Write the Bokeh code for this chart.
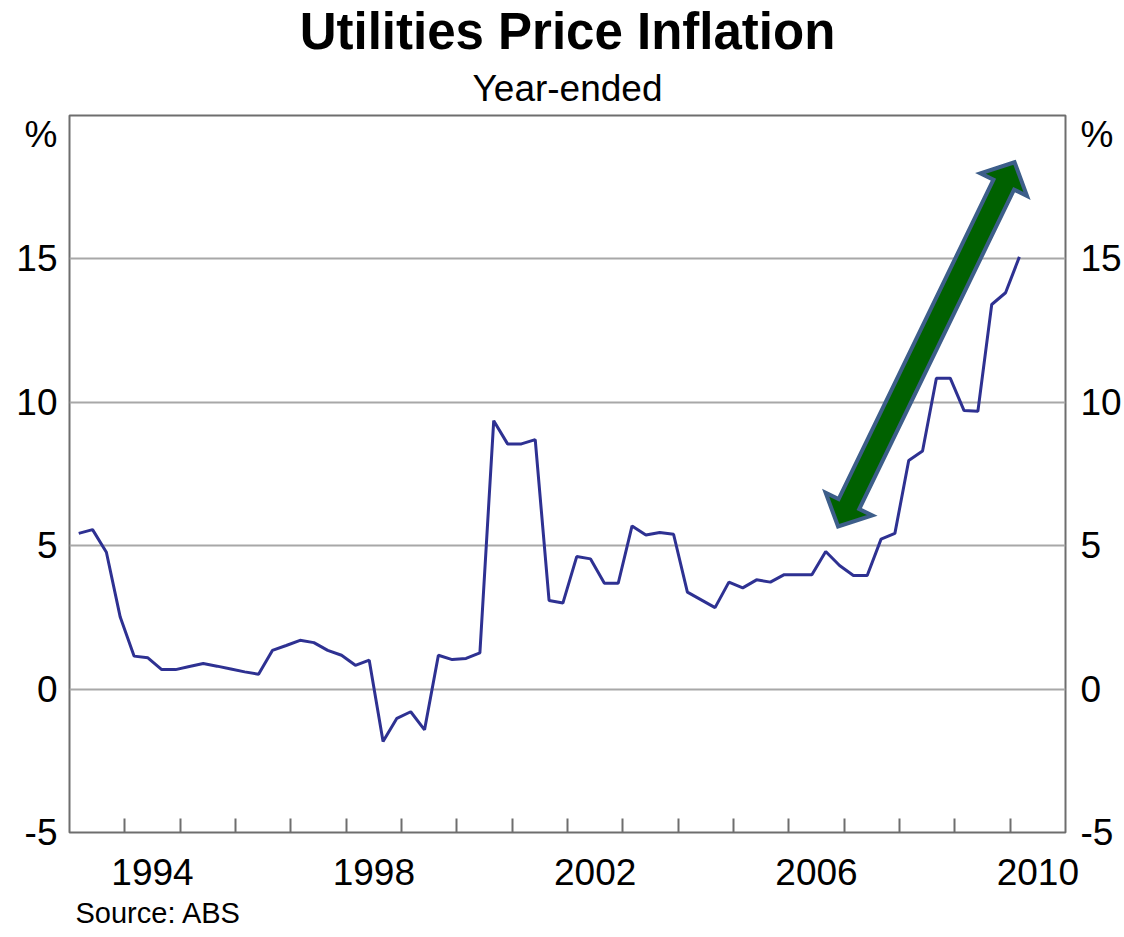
import numpy as np
from bokeh.plotting import figure
from bokeh.models import FixedTicker, LinearAxis, Title, Range1d
from bokeh.embed import file_html
from bokeh.resources import INLINE

# ---------------- data ----------------
START_YEAR = 1993          # first observation: March quarter 1993
VALUES = [
    5.43, 5.56, 4.77, 2.51,      # 1993
    1.15, 1.09, 0.68, 0.68,      # 1994
    0.79, 0.89, 0.80, 0.70,      # 1995
    0.60, 0.52, 1.35, 1.52,      # 1996
    1.70, 1.62, 1.35, 1.18,      # 1997
    0.83, 1.01, -1.83, -1.02,    # 1998
    -0.79, -1.42, 1.18, 1.03,    # 1999
    1.07, 1.26, 9.36, 8.55,      # 2000
    8.55, 8.70, 3.09, 3.00,      # 2001
    4.62, 4.54, 3.69, 3.69,      # 2002
    5.69, 5.37, 5.46, 5.40,      # 2003
    3.38, 3.11, 2.84, 3.73,      # 2004
    3.53, 3.81, 3.73, 3.99,      # 2005
    3.99, 3.99, 4.80, 4.31,      # 2006
    3.96, 3.96, 5.23, 5.43,      # 2007
    7.97, 8.30, 10.84, 10.84,    # 2008
    9.71, 9.69, 13.41, 13.82,    # 2009
    15.07,                       # 2010
]
QUARTER_YEAR = [START_YEAR + i // 4 for i in range(len(VALUES))]
QUARTER_NUM = [i % 4 + 1 for i in range(len(VALUES))]

Y_TICKS = [-5, 0, 5, 10, 15]
Y_TICK_LABELS = ["-5", "0", "5", "10", "15"]
GRID_LINES = [0, 5, 10, 15]
X_LABEL_YEARS = [1994, 1998, 2002, 2006, 2010]
YEAR_TICKS = list(range(1994, 2011))

TITLE = "Utilities Price Inflation"
SUBTITLE = "Year-ended"
SOURCE = "Source: ABS"
UNIT = "%"
UNIT_Y = 19.35             # where the "%" unit label sits on both y axes

# annotation arrow end points (data coordinates)
ARROW_FROM = (2006.89, 5.67)
ARROW_TO = (2010.08, 18.37)

# ---------------- layout ----------------
X_START, X_END = 1993, 2011
Y_START, Y_END = -5, 20
W, H = 1124, 937
B_LEFT, B_RIGHT, B_TOP, B_BOTTOM = 69, 55, 112, 105
FRAME_W = W - B_LEFT - B_RIGHT
FRAME_H = H - B_TOP - B_BOTTOM

FONT = "Liberation Sans"
LABEL_SIZE = "37px"
LINE_COLOR = "#2E3192"
GRID_COLOR = "#A8A8A8"
BORDER_COLOR = "#6E6E6E"

p = figure(width=W, height=H, output_backend="svg", toolbar_location=None,
           x_range=Range1d(X_START, X_END), y_range=Range1d(Y_START, Y_END),
           min_border_left=B_LEFT, min_border_right=B_RIGHT,
           min_border_top=B_TOP, min_border_bottom=B_BOTTOM,
           background_fill_color="white", border_fill_color="white")

p.outline_line_color = BORDER_COLOR
p.outline_line_width = 2

# grid
p.xgrid.visible = False
p.ygrid.ticker = FixedTicker(ticks=GRID_LINES)
p.ygrid.grid_line_color = GRID_COLOR
p.ygrid.grid_line_width = 2

# x axis: ticks at year starts, labels centred in the year
xa = p.xaxis[0]
xa.ticker = FixedTicker(ticks=[y + 0.5 for y in X_LABEL_YEARS], minor_ticks=YEAR_TICKS)
xa.major_label_overrides = {y + 0.5: str(y) for y in X_LABEL_YEARS}
xa.major_tick_in = 0
xa.major_tick_out = 0
xa.minor_tick_in = 14
xa.minor_tick_out = 0
xa.minor_tick_line_color = BORDER_COLOR
xa.minor_tick_line_width = 2
xa.axis_line_color = None
xa.major_label_standoff = 26
xa.major_label_text_font = FONT
xa.major_label_text_font_size = LABEL_SIZE
xa.major_label_text_color = "black"


def style_y(axis, standoff):
    axis.ticker = FixedTicker(ticks=Y_TICKS + [UNIT_Y])
    overrides = {t: s for t, s in zip(Y_TICKS, Y_TICK_LABELS)}
    overrides[UNIT_Y] = UNIT
    axis.major_label_overrides = overrides
    axis.major_tick_in = 0
    axis.major_tick_out = 0
    axis.minor_tick_line_color = None
    axis.axis_line_color = None
    axis.major_label_standoff = standoff
    axis.major_label_text_font = FONT
    axis.major_label_text_font_size = LABEL_SIZE
    axis.major_label_text_color = "black"


style_y(p.yaxis[0], 12)
right_axis = LinearAxis()
p.add_layout(right_axis, "right")
style_y(right_axis, 15)

# series
xs = [yr + (3 * q - 1) / 12 for yr, q in zip(QUARTER_YEAR, QUARTER_NUM)]
p.line(xs, VALUES, line_color=LINE_COLOR, line_width=3)

# double-headed arrow (shape built in screen pixels, converted back to data)
sx = FRAME_W / (X_END - X_START)
sy = FRAME_H / (Y_END - Y_START)
P0 = np.array([(ARROW_FROM[0] - X_START) * sx, (ARROW_FROM[1] - Y_START) * sy])
P1 = np.array([(ARROW_TO[0] - X_START) * sx, (ARROW_TO[1] - Y_START) * sy])
d = (P1 - P0) / np.linalg.norm(P1 - P0)
n = np.array([-d[1], d[0]])
shaft_hw, head_hw, head_len = 11.5, 26.0, 25.0
b1 = P1 - d * head_len
b0 = P0 + d * head_len
pts = [P1, b1 + n * head_hw, b1 + n * shaft_hw, b0 + n * shaft_hw, b0 + n * head_hw,
       P0, b0 - n * head_hw, b0 - n * shaft_hw, b1 - n * shaft_hw, b1 - n * head_hw]
ax = [X_START + pt[0] / sx for pt in pts]
ay = [Y_START + pt[1] / sy for pt in pts]
p.patch(ax, ay, fill_color="#006100", line_color="#3D5E8A", line_width=4, line_join="miter")

# titles (first added sits nearest the plot)
p.add_layout(Title(text=SUBTITLE, align="center", offset=5, standoff=13,
                   text_font=FONT, text_font_size="37px", text_font_style="normal",
                   text_color="black"), "above")
p.add_layout(Title(text=TITLE, align="center", offset=5, standoff=0,
                   text_font=FONT, text_font_size="51px", text_font_style="bold",
                   text_color="black"), "above")
p.add_layout(Title(text=SOURCE, align="left", offset=6, standoff=14,
                   text_font=FONT, text_font_size="29px", text_font_style="normal",
                   text_color="black"), "below")

open("out.html", "w").write(file_html(p, INLINE))
